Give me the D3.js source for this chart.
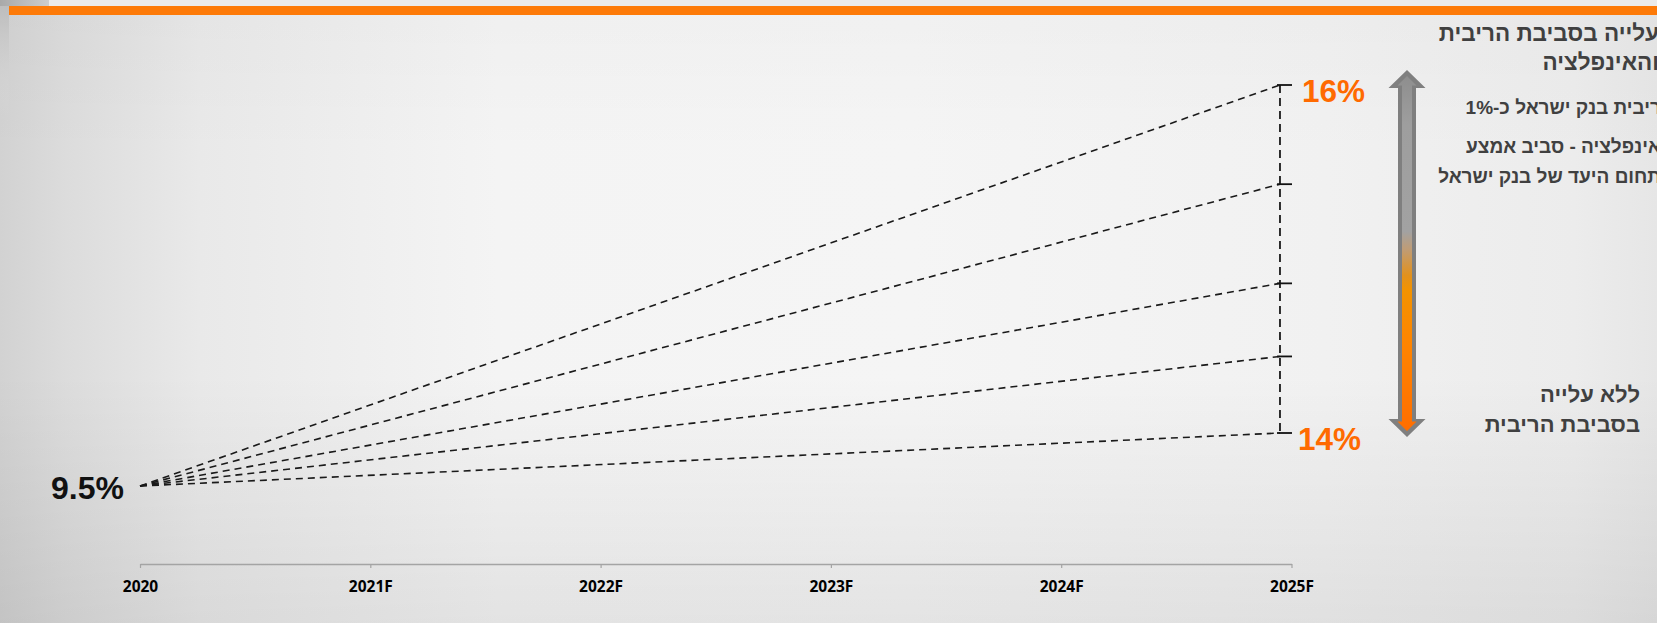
<!DOCTYPE html>
<html>
<head>
<meta charset="utf-8">
<script src="https://cdn.jsdelivr.net/npm/d3@7"></script>
<style>
  html, body { margin: 0; padding: 0; overflow: hidden; background: #efefef; }
  svg { display: block; }
</style>
</head>
<body>
<svg id="chart" width="1657" height="623"></svg>
<script>
// Years on the horizontal axis and their printed labels
const years = [2020, 2021, 2022, 2023, 2024, 2025];
const tickLabels = ["2020", "2021F", "2022F", "2023F", "2024F", "2025F"];

// Common starting value and the end values of each scenario path
const startYear = 2020;
const endYear = 2024.95;
const startValue = 9.5;
const scenarioEnds = [14, 14.44, 14.86, 15.43, 16];

// Range bounds that get an orange label
const rangeLow = 14;
const rangeHigh = 16;

// Side notes (Hebrew, right-to-left)
const RLM = "\u200F";
const upperNote = ["עלייה בסביבת הריבית", "והאינפלציה"];
const upperBullets = ["ריבית בנק ישראל כ-1%", "אינפלציה - סביב אמצע", "תחום היעד של בנק ישראל"];
const lowerNote = ["ללא עלייה", "בסביבת הריבית"];

const W = 1657, H = 623;
const svg = d3.select("#chart");
const defs = svg.append("defs");

// ---- background ----
const bgH = defs.append("linearGradient").attr("id", "bgH").attr("x1", 0).attr("x2", 1).attr("y1", 0).attr("y2", 0);
[[0, "#d2d2d2"], [0.04, "#dcdcdc"], [0.12, "#e9e9e9"], [0.3, "#f4f4f4"], [0.55, "#f5f5f5"], [0.8, "#f1f1f1"], [0.95, "#ececec"], [1, "#e6e6e6"]]
  .forEach(([o, c]) => bgH.append("stop").attr("offset", o).attr("stop-color", c));
const bgV = defs.append("linearGradient").attr("id", "bgV").attr("x1", 0).attr("x2", 0).attr("y1", 0).attr("y2", 1);
[[0, "#000", 0.02], [0.25, "#000", 0], [0.6, "#000", 0], [1, "#000", 0.07]]
  .forEach(([o, c, a]) => bgV.append("stop").attr("offset", o).attr("stop-color", c).attr("stop-opacity", a));
svg.append("rect").attr("width", W).attr("height", H).attr("fill", "url(#bgH)");
svg.append("rect").attr("width", W).attr("height", H).attr("fill", "url(#bgV)");

// header strip and orange rule
svg.append("rect").attr("x", 0).attr("y", 0).attr("width", W).attr("height", 6).attr("fill", "#ebebeb");
const corner = defs.append("linearGradient").attr("id", "corner").attr("x1", 0).attr("x2", 1);
corner.append("stop").attr("offset", 0).attr("stop-color", "#a9a9a9");
corner.append("stop").attr("offset", 1).attr("stop-color", "#cdcdcd");
svg.append("rect").attr("x", 0).attr("y", 0).attr("width", 49).attr("height", 6).attr("fill", "url(#corner)");
const edge = defs.append("linearGradient").attr("id", "edge").attr("x1", 0).attr("x2", 0).attr("y1", 0).attr("y2", 1);
edge.append("stop").attr("offset", 0).attr("stop-color", "#bdbdbd");
edge.append("stop").attr("offset", 1).attr("stop-color", "#dedede").attr("stop-opacity", 0);
svg.append("rect").attr("x", 0).attr("y", 6).attr("width", 9).attr("height", 110).attr("fill", "url(#edge)");
svg.append("rect").attr("x", 9).attr("y", 6).attr("width", W - 9).attr("height", 9).attr("fill", "#fd7a08");

// ---- scales ----
const x = d3.scaleLinear().domain([2020, 2025]).range([140, 1291.5]);
const y = d3.scaleLinear().domain([startValue, rangeLow, rangeHigh]).range([486, 433, 85]);

// ---- axis ----
const axis = svg.append("g")
  .attr("transform", `translate(0,564)`)
  .call(d3.axisBottom(x).tickValues(years).tickFormat((d, i) => tickLabels[i]).tickSize(4).tickSizeOuter(0));
axis.select(".domain").attr("stroke", "#a4a4a4").attr("stroke-width", 1.3);
axis.selectAll(".tick line").attr("stroke", "#a4a4a4").attr("stroke-width", 1.2);
axis.selectAll(".tick text")
  .attr("y", 28).attr("dy", 0)
  .attr("fill", "#000")
  .style("font-family", "'Open Sans', 'DejaVu Sans', sans-serif")
  .style("font-weight", 700)
  .style("font-size", "15.5px");

// ---- scenario paths ----
const x0 = x(startYear), y0 = y(startValue), xe = x(endYear);
svg.append("g").selectAll("line.path")
  .data(scenarioEnds).join("line")
  .attr("class", "path")
  .attr("x1", x0).attr("y1", y0)
  .attr("x2", xe).attr("y2", d => y(d))
  .attr("stroke", "#1a1a1a").attr("stroke-width", 1.6)
  .attr("stroke-dasharray", "7,5");

// range bracket
svg.append("line")
  .attr("x1", xe).attr("x2", xe)
  .attr("y1", y(rangeHigh)).attr("y2", y(rangeLow))
  .attr("stroke", "#1a1a1a").attr("stroke-width", 1.8)
  .attr("stroke-dasharray", "8,5");
svg.append("g").selectAll("line.cap")
  .data(scenarioEnds).join("line")
  .attr("class", "cap")
  .attr("x1", xe - 3).attr("x2", xe + 12)
  .attr("y1", d => y(d)).attr("y2", d => y(d))
  .attr("stroke", "#111").attr("stroke-width", 1.8);

// value labels
const bigFont = "'Liberation Sans', Arial, sans-serif";
svg.append("text")
  .attr("x", x0 - 16).attr("y", y0 + 13)
  .attr("text-anchor", "end")
  .style("font-family", bigFont).style("font-weight", 700).style("font-size", "32px")
  .attr("fill", "#111")
  .text(`${startValue}%`);
svg.append("g").selectAll("text")
  .data([rangeHigh, rangeLow]).join("text")
  .attr("x", d => xe + (d === rangeHigh ? 22 : 18)).attr("y", d => y(d) + 17)
  .style("font-family", bigFont).style("font-weight", 700).style("font-size", "31.5px")
  .attr("fill", "#ff6a00")
  .text(d => `${d}%`);

// ---- double arrow ----
const ax = 1407;
const aTop = y(rangeHigh) - 15, aBot = y(rangeLow) + 4;
const outer = [
  [ax, aTop], [ax + 18.5, aTop + 18], [ax + 9, aTop + 18], [ax + 9, aBot - 18], [ax + 18.5, aBot - 18],
  [ax, aBot], [ax - 18.5, aBot - 18], [ax - 9, aBot - 18], [ax - 9, aTop + 18], [ax - 18.5, aTop + 18]
];
const inner = [
  [ax, aTop + 6], [ax + 9.5, aTop + 15.5], [ax + 5, aTop + 15.5], [ax + 5, aBot - 15.5], [ax + 9.5, aBot - 15.5],
  [ax, aBot - 6], [ax - 9.5, aBot - 15.5], [ax - 5, aBot - 15.5], [ax - 5, aTop + 15.5], [ax - 9.5, aTop + 15.5]
];
const ag = defs.append("linearGradient").attr("id", "arrowFill")
  .attr("gradientUnits", "userSpaceOnUse").attr("x1", 0).attr("x2", 0).attr("y1", aTop).attr("y2", aBot);
[[0, "#8c8c8c"], [0.15, "#9e9e9e"], [0.44, "#a2a2a2"], [0.49, "#c09c74"], [0.56, "#e2911c"], [0.6, "#f39300"], [0.75, "#ff8400"], [1, "#ff6c00"]]
  .forEach(([o, c]) => ag.append("stop").attr("offset", o).attr("stop-color", c));
svg.append("polygon").attr("points", outer.map(p => p.join(",")).join(" ")).attr("fill", "#7f7f7f");
svg.append("polygon").attr("points", inner.map(p => p.join(",")).join(" ")).attr("fill", "url(#arrowFill)");

// ---- side notes ----
const noteFont = "'Liberation Sans', Arial, sans-serif";
function note(lines, xEnd, y0, dy, size) {
  svg.append("g").selectAll("text")
    .data(lines).join("text")
    .attr("x", xEnd).attr("y", (d, i) => y0 + i * dy)
    .attr("text-anchor", "end")
    .style("font-family", noteFont).style("font-weight", 700).style("font-size", size + "px")
    .attr("fill", "#404040")
    .text(d => RLM + d + RLM);
}
note(upperNote, 1659, 41, 28.5, 22.5);
note(upperBullets.slice(0, 1), 1661, 114, 0, 19);
note(upperBullets.slice(1), 1661, 153, 29.5, 19);
note(lowerNote, 1640, 402, 29.5, 22);
</script>
</body>
</html>
